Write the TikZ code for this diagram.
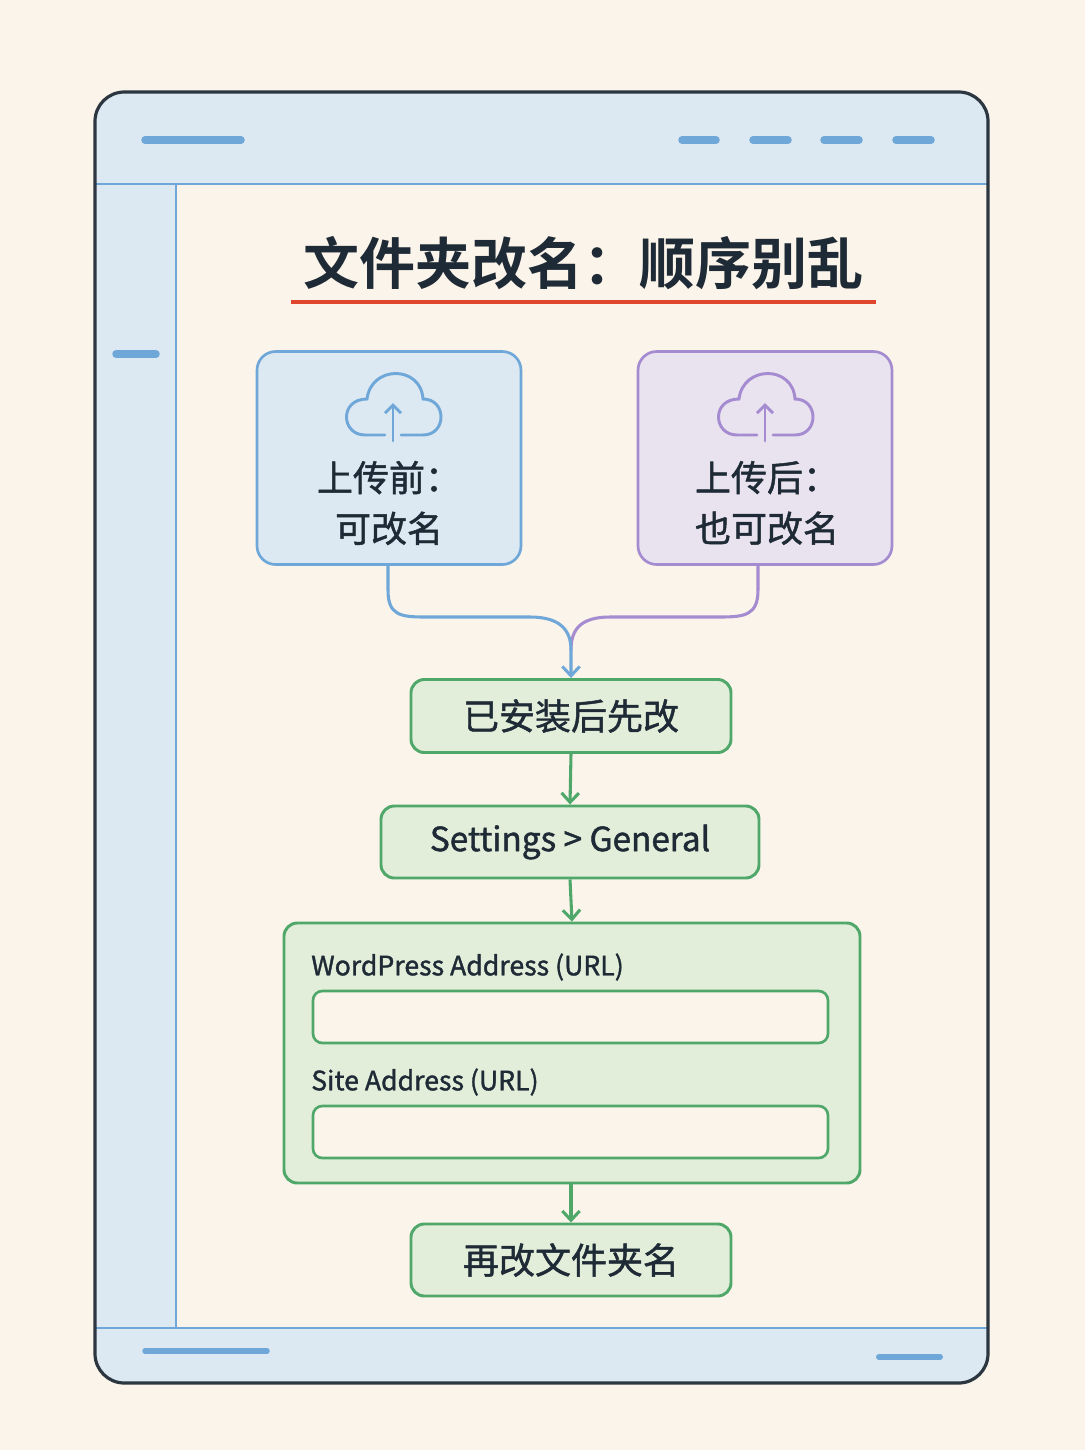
\documentclass[tikz,border=0pt]{standalone}
\usepackage{fontspec}
\setmainfont{Noto Sans CJK SC}
\newfontfamily\titlef{Noto Sans CJK SC Bold}
\newfontfamily\med{Noto Sans CJK SC}[FakeBold=1.3]
\usetikzlibrary{arrows.meta}
\definecolor{bg}{HTML}{FBF4EA}
\definecolor{frame}{HTML}{2B3640}
\definecolor{lblue}{HTML}{DDE9F2}
\definecolor{mblue}{HTML}{6FA8D8}
\definecolor{lpurp}{HTML}{E9E3F0}
\definecolor{mpurp}{HTML}{A58BD0}
\definecolor{lgreen}{HTML}{E3EEDA}
\definecolor{mgreen}{HTML}{4FA86A}
\definecolor{ink}{HTML}{1E2A35}
\definecolor{red}{HTML}{E0452E}
\begin{document}
\begin{tikzpicture}[x=0.75pt,y=-0.75pt,
  bar/.style={mblue,line width=7.5pt*0.75,line cap=round},
  gbox/.style={draw=mgreen,fill=lgreen,line width=2.2pt,rounded corners=10pt},
  field/.style={draw=mgreen,fill=bg,line width=2pt,rounded corners=7pt},
  garrow/.style={mgreen,line width=2.3pt,-{Straight Barb[length=7pt,width=13pt]}},
  txt/.style={text=ink,font=\fontsize{27}{38}\selectfont\med},
  cloud/.pic={
    \draw[line width=2.2pt,line cap=round] (-8,30) -- (-28,30) .. controls (-52,30) and (-54,-6) .. (-26,-6) .. controls (-22,-40) and (28,-40) .. (30,-6) .. controls (54,-6) and (54,30) .. (30,30) -- (8,30);
    \draw[line width=2.2pt,line cap=round,-{Straight Barb[length=6pt,width=12pt]}] (0,36) -- (0,-2);
  }]
\useasboundingbox (0,0) rectangle (1085,1450);
\fill[bg] (0,0) rectangle (1085,1450);
% window
\node[draw=none,fill=lblue,rounded corners=22pt,minimum width=893*0.75pt,minimum height=1291*0.75pt,anchor=north west] (win) at (95,92) {};
\fill[bg] (176,184) rectangle (988,1328);
\draw[mblue,line width=2pt] (95,184) -- (988,184);
\draw[mblue,line width=2pt] (95,1328) -- (988,1328);
\draw[mblue,line width=2pt] (176,184) -- (176,1328);
\draw[frame,line width=2.4pt,rounded corners=22pt] (95,92) rectangle (988,1383);
\draw[bar] (145,140) -- (241,140);
\foreach \a/\b in {682/716,753/788,824/859,896/931} \draw[bar] (\a,140) -- (\b,140);
\draw[bar] (116,354) -- (156,354);
\draw[bar,line width=5.5pt*0.75] (145,1351) -- (267,1351);
\draw[bar,line width=6pt*0.75] (879,1357) -- (940,1357);
% title
\node[text=ink,font=\fontsize{42}{46}\selectfont\titlef] (title) at (583,263) {文件夹改名：顺序别乱};
\draw[red,line width=2.4pt] (291,302) -- (876,302);
% top boxes
\node[draw=mblue,fill=lblue,line width=2pt,rounded corners=14pt,minimum width=264*0.75pt,minimum height=213*0.75pt] (b1) at (389,458) {};
\node[draw=mpurp,fill=lpurp,line width=2pt,rounded corners=14pt,minimum width=254*0.75pt,minimum height=213*0.75pt] (b2) at (765,458) {};
\pic[mblue] at (393,405) {cloud};
\pic[mpurp] at (765,405) {cloud};
\node[txt,align=center] at (389,503) {上传前：\\可改名};
\node[txt,align=center] at (767,503) {上传后：\\也可改名};
% green boxes
\node[gbox,minimum width=320*0.75pt,minimum height=73*0.75pt,txt] (g1) at (571,716) {已安装后先改};
\node[gbox,minimum width=378*0.75pt,minimum height=72*0.75pt,text=ink,font=\fontsize{25}{28}\selectfont\med] (g2) at (570,842) {Settings > General};
\node[gbox,minimum width=576*0.75pt,minimum height=260*0.75pt] (g3) at (572,1053) {};
\node[gbox,minimum width=320*0.75pt,minimum height=72*0.75pt,txt] (g4) at (571,1260) {再改文件夹名};
\node[anchor=west,text=ink,font=\fontsize{20}{24}\selectfont\med,inner sep=0] (l1) at (311,967) {WordPress Address (URL)};
\node[field,minimum width=515*0.75pt,minimum height=52*0.75pt] (f1) at (570.5,1017) {};
\node[anchor=west,text=ink,font=\fontsize{20}{24}\selectfont\med,inner sep=0] (l2) at (311,1082) {Site Address (URL)};
\node[field,minimum width=515*0.75pt,minimum height=52*0.75pt] (f2) at (570.5,1132) {};
% connectors
\draw[mpurp,line width=2.3pt] (b2.south -| 758,0) -- (758,590) .. controls (758,615) and (745,617) .. (720,617) -- (610,617) .. controls (580,617) and (571,630) .. (571,650);
\draw[mblue,line width=2.3pt,-{Straight Barb[length=7pt,width=13pt]}] (b1.south -| 388,0) -- (388,590) .. controls (388,615) and (400,617) .. (425,617) -- (530,617) .. controls (560,617) and (571,630) .. (571,650) -- (g1.north);
\draw[garrow] (g1.south) -- (g2.north);
\draw[garrow] (g2.south) -- (g3.north);
\draw[garrow] (g3.south -| g4.north) -- (g4.north);
\end{tikzpicture}
\end{document}
